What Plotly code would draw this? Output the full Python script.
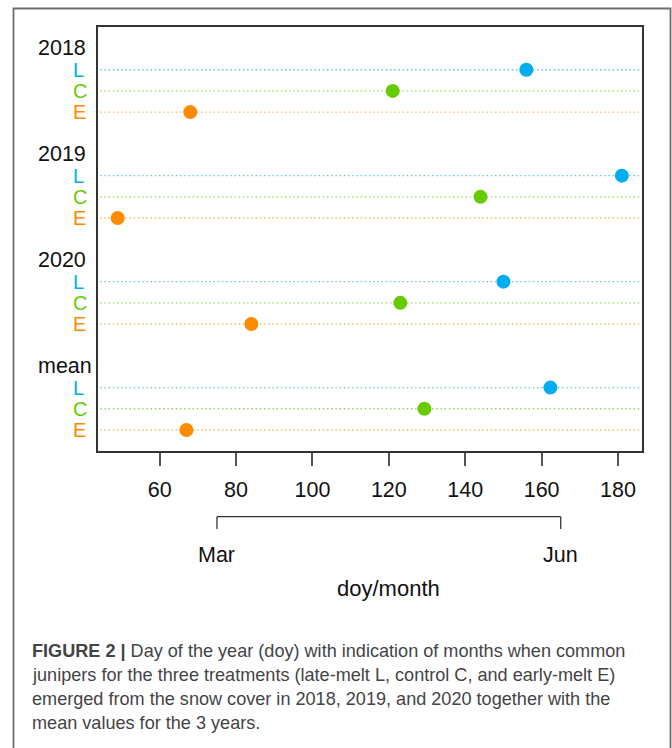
import plotly.graph_objects as go

# Emergence day of year (doy) per treatment and year
groups = ["2018", "2019", "2020", "mean"]
treatments = ["L", "C", "E"]
doy_L = [156, 181, 150, 162.3]
doy_C = [121, 144, 123, 129.3]
doy_E = [68, 49, 84, 67.0]

# Month marks on the secondary (month) scale
month_labels = ["Mar", "Jun"]
month_doy = [75, 165]

x_ticks = [60, 80, 100, 120, 140, 160, 180]

dot_colors = {"L": "#00AEEF", "C": "#66CC00", "E": "#FF8A00"}
line_colors = {"L": "#5EC3EE", "C": "#96D55A", "E": "#FFB35E"}

W, H = 672, 748


def px_x(p):
    return p / W


def px_y(p):
    return 1 - p / H


series = {"L": doy_L, "C": doy_C, "E": doy_E}

fig = go.Figure()
shapes = []
annotations = []

font_main = "Liberation Sans, Arial, Helvetica, sans-serif"
label_size = 21.5
row_label_size = 20

for g, grp in enumerate(groups):
    header_y = 19 - 5 * g
    annotations.append(dict(
        text=grp, xref="paper", yref="y", x=px_x(35.5), y=header_y,
        xanchor="left", yanchor="middle", showarrow=False,
        font=dict(family=font_main, size=label_size, color="#111111")))
    for t, tr in enumerate(treatments):
        row_y = 18 - 5 * g - t
        shapes.append(dict(
            type="line", xref="x domain", yref="y", x0=0.005, x1=1,
            y0=row_y, y1=row_y, layer="below",
            line=dict(color=line_colors[tr], width=1.4, dash="1.4px,2.8px")))
        annotations.append(dict(
            text=tr, xref="paper", yref="y", x=px_x(70.5), y=row_y,
            xanchor="left", yanchor="middle", showarrow=False,
            font=dict(family=font_main, size=row_label_size, color=dot_colors[tr])))

for t, tr in enumerate(treatments):
    ys = [18 - 5 * g - t for g in range(len(groups))]
    fig.add_trace(go.Scatter(
        x=series[tr], y=ys, mode="markers", name=tr, showlegend=False,
        marker=dict(size=14, color=dot_colors[tr], line=dict(width=0)),
        cliponaxis=False))

# Month bracket below the doy axis
bracket_y = px_y(516.7)
bracket_tick = px_y(529)
shapes.append(dict(type="line", xref="x", yref="paper",
                   x0=month_doy[0], x1=month_doy[-1], y0=bracket_y, y1=bracket_y,
                   line=dict(color="#333333", width=1.3)))
for m, d in zip(month_labels, month_doy):
    shapes.append(dict(type="line", xref="x", yref="paper",
                       x0=d, x1=d, y0=bracket_y, y1=bracket_tick,
                       line=dict(color="#333333", width=1.3)))
    annotations.append(dict(
        text=m, xref="x", yref="paper", x=d, y=px_y(555),
        xanchor="center", yanchor="middle", showarrow=False,
        font=dict(family=font_main, size=label_size, color="#111111")))

annotations.append(dict(
    text="doy/month", xref="paper", yref="paper", x=px_x(388.5), y=px_y(588),
    xanchor="center", yanchor="middle", showarrow=False,
    font=dict(family=font_main, size=22, color="#111111")))

# Outer figure frame
shapes.append(dict(type="rect", xref="paper", yref="paper",
                   x0=px_x(13.5), x1=px_x(670.5), y0=px_y(770), y1=px_y(8.5),
                   line=dict(color="#6E6E6E", width=1.8), layer="below"))

# Caption
caption_lines = [
    "<b>FIGURE 2 |</b> Day of the year (doy) with indication of months when common",
    "junipers for the three treatments (late-melt L, control C, and early-melt E)",
    "emerged from the snow cover in 2018, 2019, and 2020 together with the",
    "mean values for the 3 years.",
]
caption_y = [650.5, 675, 699, 723]
for line, cy in zip(caption_lines, caption_y):
    annotations.append(dict(
        text=line, xref="paper", yref="paper", x=px_x(29.5), y=px_y(cy),
        xanchor="left", yanchor="middle", showarrow=False,
        font=dict(family=font_main, size=18.1, color="#444444")))

fig.update_layout(
    width=W, height=H,
    margin=dict(l=0, r=0, t=0, b=0),
    paper_bgcolor="white", plot_bgcolor="white",
    shapes=shapes, annotations=annotations,
    xaxis=dict(
        domain=[px_x(97.5), px_x(642)], range=[43.72, 186.28],
        tickvals=x_ticks, ticktext=[str(v) for v in x_ticks],
        ticks="outside", ticklen=13, tickwidth=1.5, tickcolor="#555555",
        showgrid=False, zeroline=False, showline=True, mirror=True,
        linecolor="#333333", linewidth=1.5,
        tickfont=dict(family=font_main, size=label_size, color="#111111"),
        ticklabelstandoff=5),
    yaxis=dict(
        domain=[px_y(451.2), px_y(27.3)], range=[0, 20],
        showticklabels=False, ticks="", showgrid=False, zeroline=False,
        showline=True, mirror=True, linecolor="#333333", linewidth=1.5),
)

fig.write_html("out.html")
